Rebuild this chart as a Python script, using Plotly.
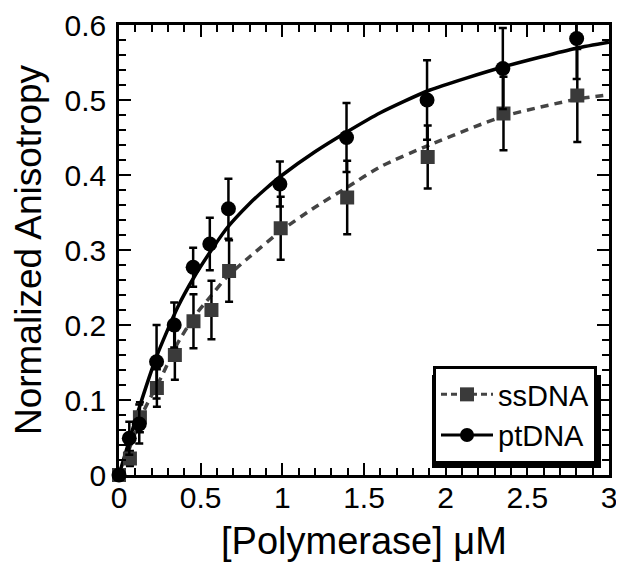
import plotly.graph_objects as go

# ---- data ----
pt_x = [0, 0.063, 0.124, 0.23, 0.338, 0.454, 0.556, 0.67, 0.985, 1.393, 1.886, 2.35, 2.802]
pt_y = [0, 0.049, 0.068, 0.151, 0.200, 0.277, 0.308, 0.355, 0.388, 0.450, 0.500, 0.542, 0.582]
pt_err = [0, 0.022, 0.026, 0.049, 0.030, 0.026, 0.035, 0.040, 0.030, 0.046, 0.053, 0.054, 0.054]

ss_x = [0, 0.067, 0.128, 0.232, 0.342, 0.456, 0.566, 0.674, 0.99, 1.397, 1.89, 2.354, 2.806]
ss_y = [0, 0.022, 0.077, 0.116, 0.160, 0.205, 0.220, 0.272, 0.329, 0.370, 0.424, 0.482, 0.506]
ss_err = [0, 0.010, 0.020, 0.025, 0.033, 0.036, 0.039, 0.041, 0.042, 0.049, 0.042, 0.049, 0.062]

# fitted curves
pt_fit_x = [0, 0.12, 0.23, 0.36, 0.46, 0.56, 0.66, 0.8, 0.9, 1.0, 1.2, 1.4, 1.6, 1.9, 2.35, 2.8, 3.0]
pt_fit_y = [0, 0.087, 0.158, 0.224, 0.264, 0.298, 0.329, 0.362, 0.382, 0.400, 0.431, 0.458, 0.483, 0.513, 0.544, 0.569, 0.577]
ss_fit_x = [0, 0.03, 0.155, 0.26, 0.36, 0.46, 0.56, 0.66, 0.8, 1.0, 1.2, 1.4, 1.6, 1.9, 2.35, 2.8, 3.0]
ss_fit_y = [0, 0.016, 0.087, 0.131, 0.176, 0.211, 0.238, 0.264, 0.291, 0.327, 0.357, 0.384, 0.411, 0.440, 0.478, 0.501, 0.507]

x_ticks = [0, 0.5, 1, 1.5, 2, 2.5, 3]
x_ticktext = ["0", "0.5", "1", "1.5", "2", "2.5", "3"]
y_ticks = [0, 0.1, 0.2, 0.3, 0.4, 0.5, 0.6]
y_ticktext = ["0", "0.1", "0.2", "0.3", "0.4", "0.5", "0.6"]

FONT = "Liberation Sans, Arial, sans-serif"
SS_COL = "#3a3a3a"
SS_LINE = "#444444"

# figure size compensates for the 8px default page margin
W, H = 616, 566
ML, MR, MT, MB = 111, 15, 17, 99
PW, PH = W - ML - MR, H - MT - MB

fig = go.Figure()

fig.add_trace(go.Scatter(x=ss_fit_x, y=ss_fit_y, mode="lines", showlegend=False,
                         line=dict(color=SS_LINE, width=3.5, dash="8px,6px", shape="spline", smoothing=0.6),
                         hoverinfo="skip"))
fig.add_trace(go.Scatter(x=pt_fit_x, y=pt_fit_y, mode="lines", showlegend=False,
                         line=dict(color="black", width=3.5, shape="spline", smoothing=0.6),
                         hoverinfo="skip"))

fig.add_trace(go.Scatter(x=ss_x, y=ss_y, mode="markers", showlegend=False, cliponaxis=False,
                         marker=dict(symbol="square", size=14, color=SS_COL),
                         error_y=dict(type="data", array=ss_err, color="black", thickness=2.5, width=4)))
fig.add_trace(go.Scatter(x=pt_x, y=pt_y, mode="markers", showlegend=False, cliponaxis=False,
                         marker=dict(symbol="circle", size=15, color="black"),
                         error_y=dict(type="data", array=pt_err, color="black", thickness=2.5, width=4)))

fig.add_trace(go.Scatter(x=[None], y=[None], mode="lines+markers", name="ssDNA",
                         line=dict(color=SS_LINE, width=3, dash="6px,4px"),
                         marker=dict(symbol="square", size=14, color=SS_COL)))
fig.add_trace(go.Scatter(x=[None], y=[None], mode="lines+markers", name="ptDNA",
                         line=dict(color="black", width=3),
                         marker=dict(symbol="circle", size=14, color="black")))

axis_common = dict(
    showline=True, linecolor="black", linewidth=2.5, mirror="allticks",
    ticks="inside", ticklen=12, tickwidth=2, tickcolor="black",
    showgrid=False, zeroline=False, automargin=False,
    tickfont=dict(family=FONT, size=30, color="black"),
)

fig.update_xaxes(range=[0, 3], tickvals=x_ticks, ticktext=x_ticktext, ticklabelstandoff=-6,
                 minor=dict(dtick=0.1, ticks="inside", ticklen=7, tickwidth=1.5, tickcolor="black"),
                 title=dict(text="[Polymerase] \u03bcM", font=dict(family=FONT, size=38, color="black"), standoff=15),
                 **axis_common)
fig.update_yaxes(range=[0, 0.6], tickvals=y_ticks, ticktext=y_ticktext, ticklabelstandoff=4,
                 minor=dict(dtick=0.02, ticks="inside", ticklen=7, tickwidth=1.5, tickcolor="black"),
                 title=dict(text="Normalized Anisotropy", font=dict(family=FONT, size=37, color="black"), standoff=22),
                 **axis_common)

# legend drop shadow (screen px -> paper coords)
def px_x(v):
    return (v - 8 - ML) / PW
def px_y(v):
    return 1 - (v - 8 - MT) / PH

fig.add_shape(type="rect", xref="paper", yref="paper",
              x0=px_x(432), x1=px_x(601), y0=px_y(468), y1=px_y(375),
              fillcolor="black", line=dict(width=0), layer="above")

fig.update_layout(
    width=W, height=H,
    margin=dict(l=ML, r=MR, t=MT, b=MB),
    plot_bgcolor="white", paper_bgcolor="white",
    legend=dict(x=px_x(597), y=px_y(464), xanchor="right", yanchor="bottom",
                bgcolor="white", bordercolor="black", borderwidth=3,
                font=dict(family=FONT, size=29, color="black"),
                itemwidth=52, tracegroupgap=0),
)

fig.write_html("out.html")
